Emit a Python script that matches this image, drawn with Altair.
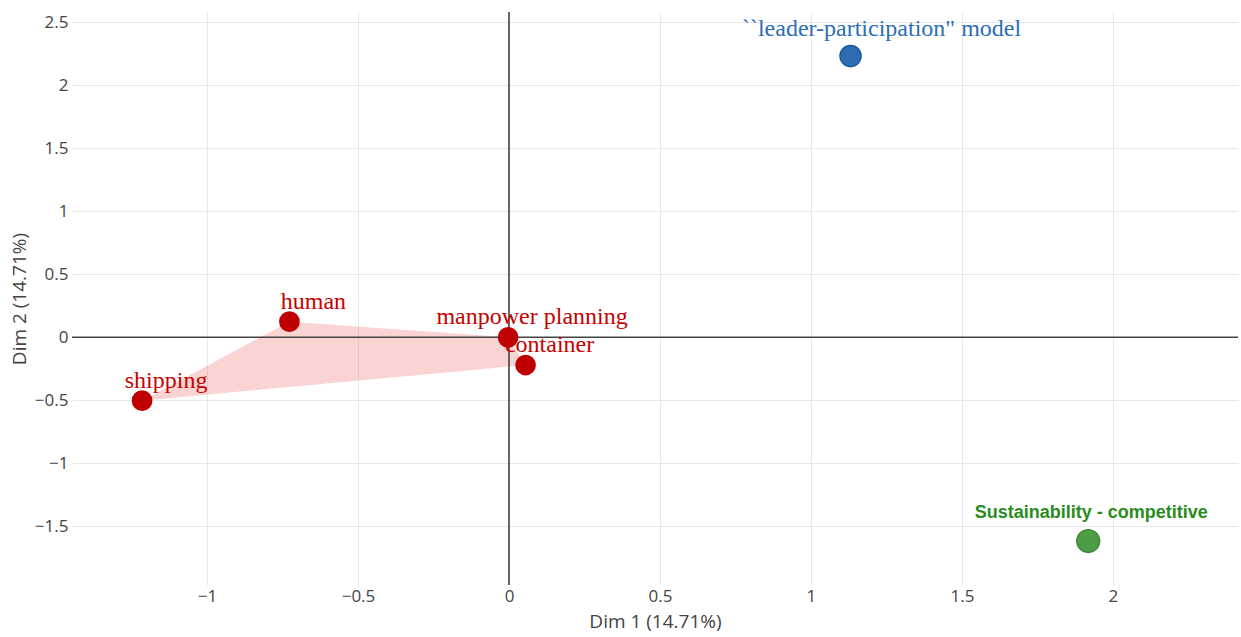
import altair as alt
import pandas as pd

# ---- data ----
labels = ["shipping", "human", "manpower planning", "container",
          "``leader-participation\" model", "Sustainability - competitive"]
dim1 = [-1.215, -0.727, -0.003, 0.055, 1.131, 1.918]
dim2 = [-0.503, 0.124, 0.0, -0.22, 2.232, -1.617]
groups = ["cluster", "cluster", "cluster", "cluster", "leader", "sustain"]
hull_seq = [0, 1, 2, 3, None, None]   # polygon vertex order of the red cluster

x_ticks = [-1, -0.5, 0, 0.5, 1, 1.5, 2]
y_ticks = [-1.5, -1, -0.5, 0, 0.5, 1, 1.5, 2, 2.5]
x_domain = [-1.447, 2.414]
y_domain = [-1.966, 2.582]

df = pd.DataFrame({"label": labels, "dim1": dim1, "dim2": dim2,
                   "group": groups, "seq": hull_seq})
hull_df = df[df["group"] == "cluster"]
zero_df = pd.DataFrame({"z": [0]})

minus = "replace(datum.label, '-', '\u2212')"

x_enc = alt.X("dim1:Q",
              scale=alt.Scale(domain=x_domain, nice=False, zero=False),
              axis=alt.Axis(values=x_ticks, format="~g", labelExpr=minus,
                            title="Dim 1 (14.71%)", grid=True, gridColor="#e8e8e8",
                            domain=False, ticks=False, labelFont="Open Sans",
                            labelFontSize=17, labelColor="#444", labelPadding=3,
                            titleFont="Open Sans", titleFontSize=19,
                            titleFontWeight="normal", titleColor="#444",
                            titlePadding=8))
y_enc = alt.Y("dim2:Q",
              scale=alt.Scale(domain=y_domain, nice=False, zero=False),
              axis=alt.Axis(values=y_ticks, format="~g", labelExpr=minus,
                            title="Dim 2 (14.71%)", grid=True, gridColor="#e8e8e8",
                            domain=False, ticks=False, labelFont="Open Sans",
                            labelFontSize=17, labelColor="#444", labelPadding=4,
                            titleFont="Open Sans", titleFontSize=19,
                            titleFontWeight="normal", titleColor="#444",
                            titlePadding=5))

hull = alt.Chart(hull_df).mark_line(
    interpolate="linear-closed", fill="#F08080", fillOpacity=0.35,
    strokeOpacity=0
).encode(x=x_enc, y=y_enc, order="seq:Q")

vzero = alt.Chart(zero_df).mark_rule(color="#444", strokeWidth=1.6).encode(x="z:Q")
hzero = alt.Chart(zero_df).mark_rule(color="#444", strokeWidth=1.6).encode(y="z:Q")

points = alt.Chart(df).mark_point(filled=True, opacity=1, strokeWidth=1.5).encode(
    x="dim1:Q", y="dim2:Q",
    fill=alt.Fill("group:N", legend=None,
                  scale=alt.Scale(domain=["cluster", "leader", "sustain"],
                                  range=["#C00000", "#2E6DB4", "#4F9C46"])),
    stroke=alt.Stroke("group:N", legend=None,
                      scale=alt.Scale(domain=["cluster", "leader", "sustain"],
                                      range=["#C00000", "#1F5A9E", "#3E8A38"])),
    size=alt.Size("group:N", legend=None,
                  scale=alt.Scale(domain=["cluster", "leader", "sustain"],
                                  range=[370, 520, 600])),
)

red_text = alt.Chart(df).transform_filter("datum.group == 'cluster'").mark_text(
    font="Liberation Serif", fontSize=24, color="#C80000", dx=24, dy=-20,
    baseline="middle", align="center"
).encode(x="dim1:Q", y="dim2:Q", text="label:N")

blue_text = alt.Chart(df).transform_filter("datum.group == 'leader'").mark_text(
    font="Liberation Serif", fontSize=24, color="#2E6DB4", dx=31, dy=-27,
    baseline="middle", align="center"
).encode(x="dim1:Q", y="dim2:Q", text="label:N")

green_text = alt.Chart(df).transform_filter("datum.group == 'sustain'").mark_text(
    font="Liberation Sans", fontSize=18, fontWeight="bold", color="#2A8C1E",
    dx=3, dy=-28, baseline="middle", align="center"
).encode(x="dim1:Q", y="dim2:Q", text="label:N")

chart = alt.layer(hull, vzero, hzero, points, red_text, blue_text, green_text).properties(
    width=1166, height=573,
    padding={"left": 72, "top": 12, "right": 3, "bottom": 52},
    autosize=alt.AutoSizeParams(type="none"),
    background="white",
).configure_view(stroke=None)

chart.save("out.html", embed_options={"renderer": "svg", "actions": False})
